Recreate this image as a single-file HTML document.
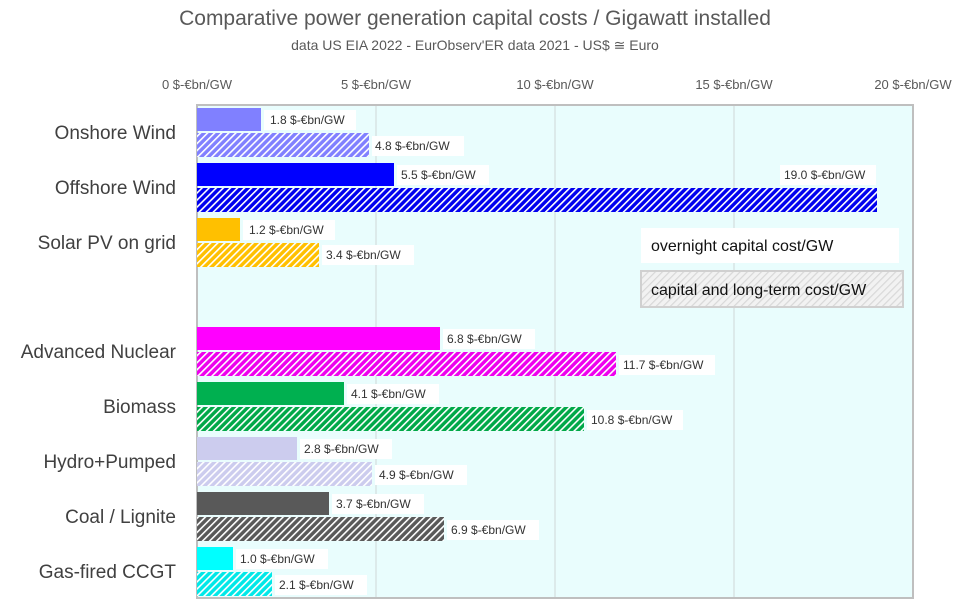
<!DOCTYPE html>
<html><head><meta charset="utf-8"><style>
body{margin:0;background:#fff;}
svg text{font-family:"Liberation Sans",sans-serif;}
</style></head><body>
<svg width="960" height="607" viewBox="0 0 960 607" xmlns="http://www.w3.org/2000/svg">
<defs>
<pattern id="h1" width="5" height="5" patternUnits="userSpaceOnUse" patternTransform="rotate(45)"><rect width="5" height="5" fill="#8080ff"/><rect width="1.6" height="5" fill="#fff"/></pattern>
<pattern id="h2" width="5" height="5" patternUnits="userSpaceOnUse" patternTransform="rotate(45)"><rect width="5" height="5" fill="#0000ee"/><rect width="1.6" height="5" fill="#fff"/></pattern>
<pattern id="h3" width="5" height="5" patternUnits="userSpaceOnUse" patternTransform="rotate(45)"><rect width="5" height="5" fill="#ffc000"/><rect width="1.6" height="5" fill="#fff"/></pattern>
<pattern id="h4" width="5" height="5" patternUnits="userSpaceOnUse" patternTransform="rotate(45)"><rect width="5" height="5" fill="#ee00ee"/><rect width="1.6" height="5" fill="#fff"/></pattern>
<pattern id="h5" width="5" height="5" patternUnits="userSpaceOnUse" patternTransform="rotate(45)"><rect width="5" height="5" fill="#00a848"/><rect width="1.6" height="5" fill="#fff"/></pattern>
<pattern id="h6" width="5" height="5" patternUnits="userSpaceOnUse" patternTransform="rotate(45)"><rect width="5" height="5" fill="#ccccee"/><rect width="1.6" height="5" fill="#fff"/></pattern>
<pattern id="h7" width="5" height="5" patternUnits="userSpaceOnUse" patternTransform="rotate(45)"><rect width="5" height="5" fill="#595959"/><rect width="1.6" height="5" fill="#fff"/></pattern>
<pattern id="h8" width="5" height="5" patternUnits="userSpaceOnUse" patternTransform="rotate(45)"><rect width="5" height="5" fill="#00e8e8"/><rect width="1.6" height="5" fill="#fff"/></pattern>
<pattern id="h9" width="5" height="5" patternUnits="userSpaceOnUse" patternTransform="rotate(45)"><rect width="5" height="5" fill="#f2f2f2"/><rect width="1.2" height="5" fill="#d8d8d8"/></pattern>
</defs>
<text x="475" y="25" text-anchor="middle" font-size="21" fill="#595959">Comparative power generation capital costs / Gigawatt installed</text>
<text x="475" y="50" text-anchor="middle" font-size="14" fill="#595959">data US EIA 2022 - EurObserv'ER data 2021 - US$ ≅ Euro</text>
<g font-size="13" fill="#595959" text-anchor="middle">
<text x="197" y="89">0 $-€bn/GW</text><text x="376" y="89">5 $-€bn/GW</text><text x="555" y="89">10 $-€bn/GW</text><text x="734" y="89">15 $-€bn/GW</text><text x="913" y="89">20 $-€bn/GW</text>
</g>
<rect x="197" y="105" width="716" height="493" fill="#e9fdfd" stroke="#bfbfbf" stroke-width="2"/>
<g stroke="#d0d8d8" stroke-width="1"><line x1="376" y1="106" x2="376" y2="597"/><line x1="555" y1="106" x2="555" y2="597"/><line x1="734" y1="106" x2="734" y2="597"/></g>
<g font-size="19" fill="#404040" text-anchor="end">
<text x="176" y="139">Onshore Wind</text><text x="176" y="194">Offshore Wind</text><text x="176" y="249">Solar PV on grid</text>
<text x="176" y="358">Advanced Nuclear</text><text x="176" y="413">Biomass</text><text x="176" y="468">Hydro+Pumped</text><text x="176" y="523">Coal / Lignite</text><text x="176" y="578">Gas-fired CCGT</text>
</g>
<g font-size="12" fill="#333">
<rect x="197" y="108" width="64" height="23" fill="#8080ff"/>
<rect x="197" y="133" width="172" height="24" fill="url(#h1)"/>
<rect x="197" y="163" width="197" height="23" fill="#0000ff"/>
<rect x="197" y="188" width="680" height="24" fill="url(#h2)"/>
<rect x="197" y="218" width="43" height="23" fill="#ffc000"/>
<rect x="197" y="243" width="122" height="24" fill="url(#h3)"/>
<rect x="197" y="327" width="243" height="23" fill="#ff00ff"/>
<rect x="197" y="352" width="419" height="24" fill="url(#h4)"/>
<rect x="197" y="382" width="147" height="23" fill="#00b050"/>
<rect x="197" y="407" width="387" height="24" fill="url(#h5)"/>
<rect x="197" y="437" width="100" height="23" fill="#ccccee"/>
<rect x="197" y="462" width="175" height="24" fill="url(#h6)"/>
<rect x="197" y="492" width="132" height="23" fill="#595959"/>
<rect x="197" y="517" width="247" height="24" fill="url(#h7)"/>
<rect x="197" y="547" width="36" height="23" fill="#00ffff"/>
<rect x="197" y="572" width="75" height="24" fill="url(#h8)"/>
<g fill="#fff">
<rect x="264" y="110" width="92" height="20"/><rect x="372" y="136" width="92" height="20"/>
<rect x="397" y="165" width="92" height="20"/><rect x="780" y="165" width="96" height="20"/>
<rect x="243" y="220" width="92" height="20"/><rect x="322" y="245" width="92" height="20"/>
<rect x="443" y="329" width="92" height="20"/><rect x="619" y="355" width="96" height="20"/>
<rect x="347" y="384" width="92" height="20"/><rect x="587" y="410" width="96" height="20"/>
<rect x="300" y="439" width="92" height="20"/><rect x="375" y="465" width="92" height="20"/>
<rect x="332" y="494" width="92" height="20"/><rect x="447" y="520" width="92" height="20"/>
<rect x="236" y="549" width="92" height="20"/><rect x="275" y="575" width="92" height="20"/>
</g>
<text x="270" y="124">1.8 $-€bn/GW</text><text x="375" y="150">4.8 $-€bn/GW</text>
<text x="401" y="179">5.5 $-€bn/GW</text><text x="784" y="179">19.0 $-€bn/GW</text>
<text x="249" y="234">1.2 $-€bn/GW</text><text x="326" y="259">3.4 $-€bn/GW</text>
<text x="447" y="343">6.8 $-€bn/GW</text><text x="623" y="369">11.7 $-€bn/GW</text>
<text x="351" y="398">4.1 $-€bn/GW</text><text x="591" y="424">10.8 $-€bn/GW</text>
<text x="304" y="453">2.8 $-€bn/GW</text><text x="379" y="479">4.9 $-€bn/GW</text>
<text x="336" y="508">3.7 $-€bn/GW</text><text x="451" y="534">6.9 $-€bn/GW</text>
<text x="240" y="563">1.0 $-€bn/GW</text><text x="279" y="589">2.1 $-€bn/GW</text>
</g>
<rect x="641" y="228" width="258" height="35" fill="#fff"/>
<text x="651" y="251" font-size="16" fill="#111">overnight capital cost/GW</text>
<rect x="641" y="271" width="262" height="36" fill="url(#h9)" stroke="#d0d0d0" stroke-width="2"/>
<text x="651" y="295" font-size="16" fill="#111">capital and long-term cost/GW</text>
</svg>
</body></html>
